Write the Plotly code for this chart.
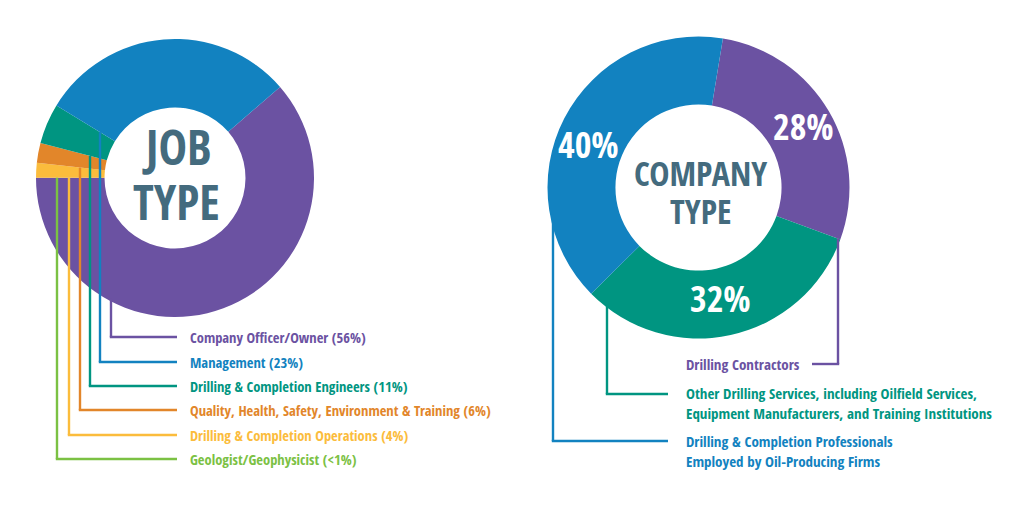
import math
import plotly.graph_objects as go

W, H = 1024, 505

# ---------------- data ----------------
# Left donut: job type (label text and slice sizes as drawn in the picture)
job_names = ["Company Officer/Owner", "Management", "Drilling & Completion Engineers",
             "Quality, Health, Safety, Environment & Training",
             "Drilling & Completion Operations", "Geologist/Geophysicist"]
job_pct_text = ["56%", "23%", "11%", "6%", "4%", "<1%"]
job_slice = [61.4, 29.9, 4.7, 2.3, 1.7, 0.0]
job_colors = ["#6b52a2", "#1282c0", "#009581", "#e2862a", "#fbbc3c", "#7bc143"]
job_draw_order = [0, 5, 4, 3, 2, 1]   # clockwise order around the ring

# Right donut: company type
company_names = ["Drilling Contractors",
                 "Other Drilling Services, including Oilfield Services,<br>Equipment Manufacturers, and Training Institutions",
                 "Drilling & Completion Professionals<br>Employed by Oil-Producing Firms"]
company_short = ["Drilling Contractors", "Other Drilling Services", "Drilling & Completion Professionals"]
company_values = [28, 32, 40]
company_colors = ["#6b52a2", "#009581", "#1282c0"]

# ---------------- layout constants (pixels) ----------------
FONT = "Open Sans Condensed, Roboto Condensed, DejaVu Sans Condensed, sans-serif"
CENTER_COLOR = "#446b7e"

L_CX, L_CY, L_R, L_HOLE, L_ROT = 175, 178, 139, 0.507, 49.1
R_CX, R_CY, R_R, R_HOLE, R_ROT = 698.5, 187.5, 151, 0.55, 9.3


def px(x):
    return x / W


def py(y):
    return 1 - y / H


def domain(cx, cy, r):
    return dict(x=[px(cx - r), px(cx + r)], y=[py(cy + r), py(cy - r)])


fig = go.Figure()

fig.add_trace(go.Pie(
    values=[job_slice[i] for i in job_draw_order],
    labels=[job_names[i] for i in job_draw_order],
    marker=dict(colors=[job_colors[i] for i in job_draw_order], line=dict(width=0)),
    hole=L_HOLE, sort=False, direction="clockwise", rotation=L_ROT,
    textinfo="none", domain=domain(L_CX, L_CY, L_R), showlegend=False,
))

fig.add_trace(go.Pie(
    values=company_values,
    labels=company_short,
    marker=dict(colors=company_colors, line=dict(width=0)),
    hole=R_HOLE, sort=False, direction="clockwise", rotation=R_ROT,
    textinfo="none", domain=domain(R_CX, R_CY, R_R), showlegend=False,
))

shapes = []
annotations = []


def seg(x0, y0, x1, y1, color, w=2.4):
    shapes.append(dict(type="line", xref="paper", yref="paper",
                       x0=px(x0), y0=py(y0), x1=px(x1), y1=py(y1),
                       line=dict(color=color, width=w), layer="above"))


def text(x, y, s, color, size, xanchor="left", align="left"):
    annotations.append(dict(xref="paper", yref="paper", x=px(x), y=py(y), text=s,
                            showarrow=False, xanchor=xanchor, yanchor="middle", align=align,
                            font=dict(family=FONT, size=size, color=color, weight="bold")))


# ---- left leader lines ----
total = sum(job_slice)
start_of = {}
ang = L_ROT
for i in job_draw_order:
    start_of[i] = ang
    ang += job_slice[i] / total * 360

line_x = [111, 100, 90, 80, 69, 57]
row_y = [337, 362, 386, 410, 435, 459]
line_end_x = 177
label_x = 188
for i in range(len(job_names)):
    x = line_x[i]
    if i == 0:
        y0 = L_CY + math.sqrt(L_R ** 2 - (x - L_CX) ** 2) - 3
    else:
        th = math.radians(start_of[i])
        t = (x - L_CX) / math.sin(th)
        y0 = L_CY - t * math.cos(th)
    seg(x, y0, x, row_y[i], job_colors[i])
    seg(x - 1.2, row_y[i], line_end_x, row_y[i], job_colors[i])
    text(label_x, row_y[i], f"{job_names[i]} ({job_pct_text[i]})", job_colors[i], 14.5)

# ---- right leader lines ----
ctot = sum(company_values)
purple_end = math.radians(R_ROT + company_values[0] / ctot * 360)
xr = 838
t = (xr - R_CX) / math.sin(purple_end)
seg(xr, R_CY - t * math.cos(purple_end), xr, 364, company_colors[0])
seg(xr + 1.2, 364, 812, 364, company_colors[0])
text(684, 364, company_names[0], company_colors[0], 15)

xt = 607
seg(xt, R_CY + math.sqrt(R_R ** 2 - (xt - R_CX) ** 2) - 3, xt, 394, company_colors[1])
seg(xt - 1.2, 394, 668, 394, company_colors[1])
text(684, 403, company_names[1], company_colors[1], 15)

xb = 553
seg(xb, R_CY + math.sqrt(R_R ** 2 - (xb - R_CX) ** 2) - 8, xb, 441, company_colors[2])
seg(xb - 1.2, 441, 668, 441, company_colors[2])
text(684, 450.5, company_names[2], company_colors[2], 15)

# ---- centre titles ----
text(176, 146, "JOB", CENTER_COLOR, 48, xanchor="center")
text(176, 201, "TYPE", CENTER_COLOR, 48, xanchor="center")
text(700, 172.5, "COMPANY", CENTER_COLOR, 34, xanchor="center")
text(700, 211.5, "TYPE", CENTER_COLOR, 34, xanchor="center")

# ---- percentage labels on right donut ----
pct_pos = [(803, 126.5), (720, 298.5), (588, 144)]
for v, (x, y) in zip(company_values, pct_pos):
    text(x, y, f"{v}%", "white", 36, xanchor="center")

fig.update_layout(
    width=W, height=H, margin=dict(l=0, r=0, t=0, b=0),
    paper_bgcolor="white", plot_bgcolor="white",
    shapes=shapes, annotations=annotations, showlegend=False,
)

fig.write_html("out.html", config={"displayModeBar": False},
               post_script="document.body.style.margin='0px';")
